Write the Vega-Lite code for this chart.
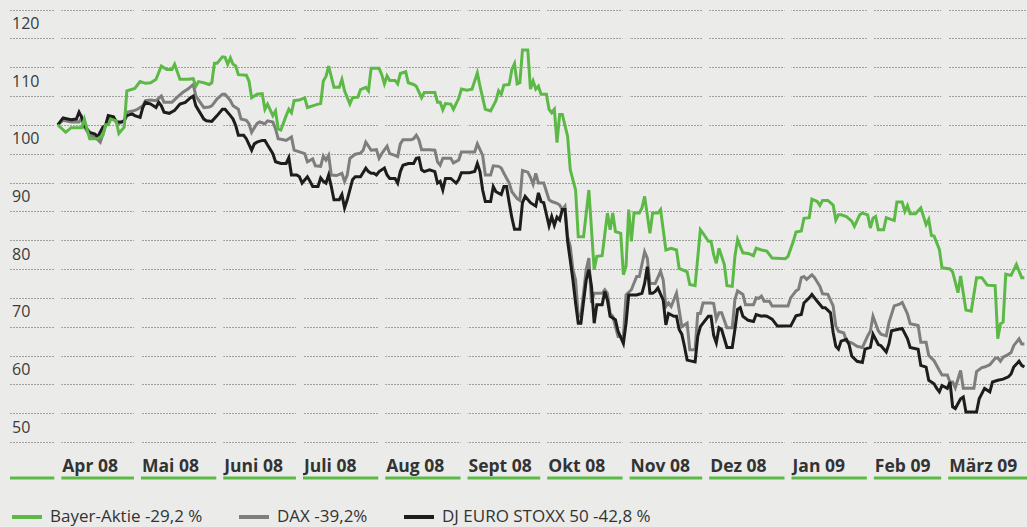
{
"$schema":"https://vega.github.io/schema/vega-lite/v6.json",
"width":1017,"height":442,
"autosize":{"type":"none"},
"padding":{"left":10,"top":0,"right":0,"bottom":85},
"background":"#ebecea",
"config":{"view":{"stroke":null},"font":"Open Sans"},
"datasets":{
"segs":[{"d":"2008-03-14","e":"2009-04-01"}],
"months":[{"d":"2008-04-01"},{"d":"2008-05-01"},{"d":"2008-06-01"},{"d":"2008-07-01"},{"d":"2008-08-01"},{"d":"2008-09-01"},{"d":"2008-10-01"},{"d":"2008-11-01"},{"d":"2008-12-01"},{"d":"2009-01-01"},{"d":"2009-02-01"},{"d":"2009-03-01"}],
"bayer":[
{"d":"2008-04-01","v":100},{"d":"2008-04-04","v":98.7},{"d":"2008-04-06","v":99.5},{"d":"2008-04-10","v":99.5},{"d":"2008-04-11","v":101},{"d":"2008-04-13","v":97.6},{"d":"2008-04-16","v":97.6},{"d":"2008-04-18","v":98.2},{"d":"2008-04-19","v":100},{"d":"2008-04-20","v":100},{"d":"2008-04-21","v":101},{"d":"2008-04-23","v":100.7},{"d":"2008-04-24","v":98.5},{"d":"2008-04-26","v":99.6},{"d":"2008-04-27","v":105.9},{"d":"2008-04-30","v":106.3},
{"d":"2008-05-02","v":107.5},{"d":"2008-05-04","v":107.2},{"d":"2008-05-06","v":107.3},{"d":"2008-05-08","v":107.9},{"d":"2008-05-10","v":110.2},{"d":"2008-05-12","v":109.6},{"d":"2008-05-14","v":109.6},{"d":"2008-05-15","v":110.5},{"d":"2008-05-17","v":107.9},{"d":"2008-05-20","v":107.9},{"d":"2008-05-22","v":108},{"d":"2008-05-23","v":106.7},{"d":"2008-05-24","v":107.5},{"d":"2008-05-26","v":107.3},{"d":"2008-05-28","v":107},{"d":"2008-05-29","v":107.3},{"d":"2008-05-30","v":110.7},{"d":"2008-05-31","v":110.7},
{"d":"2008-06-02","v":111.8},{"d":"2008-06-03","v":111.7},{"d":"2008-06-04","v":110.5},{"d":"2008-06-05","v":111.6},{"d":"2008-06-06","v":110.5},{"d":"2008-06-07","v":110.2},{"d":"2008-06-08","v":108.7},{"d":"2008-06-11","v":108.6},{"d":"2008-06-12","v":107.6},{"d":"2008-06-13","v":104.7},{"d":"2008-06-15","v":105.3},{"d":"2008-06-17","v":105.4},{"d":"2008-06-18","v":102.7},{"d":"2008-06-19","v":103.6},{"d":"2008-06-21","v":101.6},{"d":"2008-06-22","v":102.4},{"d":"2008-06-23","v":99.3},{"d":"2008-06-24","v":99.1},{"d":"2008-06-26","v":101.6},{"d":"2008-06-27","v":102.7},{"d":"2008-06-28","v":102.1},{"d":"2008-06-29","v":104.2},
{"d":"2008-07-01","v":104.3},{"d":"2008-07-03","v":104.7},{"d":"2008-07-04","v":103},{"d":"2008-07-06","v":103.3},{"d":"2008-07-08","v":103.6},{"d":"2008-07-09","v":103.7},{"d":"2008-07-10","v":107.6},{"d":"2008-07-11","v":108.4},{"d":"2008-07-12","v":110.2},{"d":"2008-07-14","v":106.5},{"d":"2008-07-16","v":106.5},{"d":"2008-07-17","v":107.9},{"d":"2008-07-18","v":105.9},{"d":"2008-07-20","v":103.6},{"d":"2008-07-21","v":104.7},{"d":"2008-07-23","v":104.8},{"d":"2008-07-24","v":106.1},{"d":"2008-07-26","v":106.5},{"d":"2008-07-27","v":105.9},{"d":"2008-07-28","v":109.8},{"d":"2008-07-31","v":109.8},
{"d":"2008-08-01","v":108.7},{"d":"2008-08-02","v":107.1},{"d":"2008-08-03","v":108.5},{"d":"2008-08-04","v":107.7},{"d":"2008-08-06","v":107.7},{"d":"2008-08-07","v":107.1},{"d":"2008-08-08","v":108.9},{"d":"2008-08-10","v":109.2},{"d":"2008-08-11","v":107.3},{"d":"2008-08-13","v":107},{"d":"2008-08-14","v":106.7},{"d":"2008-08-16","v":104.7},{"d":"2008-08-17","v":105.6},{"d":"2008-08-21","v":105.6},{"d":"2008-08-22","v":103.9},{"d":"2008-08-23","v":103.9},{"d":"2008-08-24","v":102.6},{"d":"2008-08-25","v":103.7},{"d":"2008-08-27","v":103.6},{"d":"2008-08-28","v":102.7},{"d":"2008-08-30","v":104.6},{"d":"2008-08-31","v":106.2},
{"d":"2008-09-02","v":106},{"d":"2008-09-04","v":106.2},{"d":"2008-09-05","v":107.6},{"d":"2008-09-06","v":109},{"d":"2008-09-07","v":106.7},{"d":"2008-09-09","v":102.7},{"d":"2008-09-11","v":102.4},{"d":"2008-09-13","v":104.2},{"d":"2008-09-14","v":105.9},{"d":"2008-09-15","v":105.3},{"d":"2008-09-16","v":106.9},{"d":"2008-09-18","v":107},{"d":"2008-09-19","v":109.6},{"d":"2008-09-20","v":110.6},{"d":"2008-09-21","v":107.1},{"d":"2008-09-22","v":107.3},{"d":"2008-09-23","v":113},{"d":"2008-09-25","v":113},{"d":"2008-09-26","v":106.2},{"d":"2008-09-27","v":107.6},{"d":"2008-09-28","v":106.2},{"d":"2008-09-29","v":106.7},{"d":"2008-09-30","v":105.3},
{"d":"2008-10-02","v":105.3},{"d":"2008-10-03","v":102.7},{"d":"2008-10-04","v":102.1},{"d":"2008-10-05","v":102.7},{"d":"2008-10-06","v":96.9},{"d":"2008-10-07","v":101.8},{"d":"2008-10-08","v":101.8},{"d":"2008-10-10","v":98},{"d":"2008-10-11","v":92.2},{"d":"2008-10-13","v":88.7},{"d":"2008-10-14","v":80.6},{"d":"2008-10-16","v":80.6},{"d":"2008-10-18","v":88.7},{"d":"2008-10-20","v":74.9},{"d":"2008-10-21","v":77.2},{"d":"2008-10-23","v":77.3},{"d":"2008-10-25","v":84.7},{"d":"2008-10-26","v":81.8},{"d":"2008-10-27","v":84.7},{"d":"2008-10-28","v":81.5},{"d":"2008-10-30","v":81.2},{"d":"2008-10-31","v":74},
{"d":"2008-11-01","v":75.5},{"d":"2008-11-02","v":85.3},{"d":"2008-11-03","v":79.8},{"d":"2008-11-04","v":84.7},{"d":"2008-11-06","v":84.7},{"d":"2008-11-07","v":85.6},{"d":"2008-11-08","v":87.6},{"d":"2008-11-10","v":81.2},{"d":"2008-11-11","v":84.7},{"d":"2008-11-13","v":84.7},{"d":"2008-11-14","v":85.3},{"d":"2008-11-16","v":78.3},{"d":"2008-11-18","v":78.6},{"d":"2008-11-20","v":78.3},{"d":"2008-11-21","v":75.1},{"d":"2008-11-24","v":74.5},{"d":"2008-11-25","v":72.3},{"d":"2008-11-27","v":72.1},{"d":"2008-11-29","v":81.8},{"d":"2008-11-30","v":81.2},
{"d":"2008-12-02","v":79.8},{"d":"2008-12-03","v":79.8},{"d":"2008-12-04","v":77.5},{"d":"2008-12-05","v":76},{"d":"2008-12-06","v":78.6},{"d":"2008-12-08","v":75.8},{"d":"2008-12-09","v":72.1},{"d":"2008-12-11","v":72},{"d":"2008-12-12","v":77.2},{"d":"2008-12-13","v":80.1},{"d":"2008-12-14","v":78.9},{"d":"2008-12-15","v":77.8},{"d":"2008-12-17","v":77.7},{"d":"2008-12-19","v":77.3},{"d":"2008-12-20","v":78.6},{"d":"2008-12-22","v":78.3},{"d":"2008-12-24","v":78.1},{"d":"2008-12-26","v":76.9},{"d":"2008-12-31","v":76.8},
{"d":"2009-01-01","v":77.2},{"d":"2009-01-03","v":79.8},{"d":"2009-01-04","v":81.4},{"d":"2009-01-06","v":81.6},{"d":"2009-01-07","v":83.8},{"d":"2009-01-09","v":83.9},{"d":"2009-01-10","v":87.1},{"d":"2009-01-12","v":86.7},{"d":"2009-01-13","v":86},{"d":"2009-01-14","v":86.9},{"d":"2009-01-16","v":86.9},{"d":"2009-01-18","v":86.1},{"d":"2009-01-19","v":83.5},{"d":"2009-01-20","v":84.4},{"d":"2009-01-21","v":84.4},{"d":"2009-01-23","v":84.1},{"d":"2009-01-25","v":83.3},{"d":"2009-01-26","v":82.4},{"d":"2009-01-28","v":84.4},{"d":"2009-01-29","v":84.7},{"d":"2009-01-31","v":84.4},
{"d":"2009-02-01","v":82.1},{"d":"2009-02-02","v":83.8},{"d":"2009-02-03","v":84.1},{"d":"2009-02-04","v":81.8},{"d":"2009-02-06","v":81.8},{"d":"2009-02-07","v":83.9},{"d":"2009-02-10","v":83.4},{"d":"2009-02-11","v":86.6},{"d":"2009-02-13","v":86.6},{"d":"2009-02-14","v":85},{"d":"2009-02-15","v":86},{"d":"2009-02-16","v":84.6},{"d":"2009-02-18","v":84.6},{"d":"2009-02-20","v":85.6},{"d":"2009-02-22","v":82.7},{"d":"2009-02-23","v":83.6},{"d":"2009-02-24","v":80.8},{"d":"2009-02-25","v":80.7},{"d":"2009-02-27","v":78.4},{"d":"2009-02-28","v":75.2},
{"d":"2009-03-03","v":75},{"d":"2009-03-04","v":74.5},{"d":"2009-03-06","v":70.9},{"d":"2009-03-07","v":73.8},{"d":"2009-03-09","v":67.9},{"d":"2009-03-11","v":67.7},{"d":"2009-03-13","v":73.5},{"d":"2009-03-15","v":73.5},{"d":"2009-03-17","v":72.2},{"d":"2009-03-20","v":72.1},{"d":"2009-03-21","v":62.9},{"d":"2009-03-22","v":65.5},{"d":"2009-03-23","v":65.8},{"d":"2009-03-24","v":74.1},{"d":"2009-03-26","v":73.9},{"d":"2009-03-28","v":75.8},{"d":"2009-03-30","v":73.5},{"d":"2009-03-31","v":73.5}
],
"dax":[
{"d":"2008-04-01","v":100},{"d":"2008-04-03","v":100.8},{"d":"2008-04-06","v":100.5},{"d":"2008-04-09","v":100.5},{"d":"2008-04-10","v":101.2},{"d":"2008-04-11","v":99.6},{"d":"2008-04-13","v":98.2},{"d":"2008-04-15","v":97.9},{"d":"2008-04-17","v":97},{"d":"2008-04-18","v":98.4},{"d":"2008-04-20","v":101.3},{"d":"2008-04-22","v":101.2},{"d":"2008-04-24","v":100.2},{"d":"2008-04-26","v":100.7},{"d":"2008-04-27","v":102.2},{"d":"2008-04-30","v":102.5},
{"d":"2008-05-01","v":102.7},{"d":"2008-05-03","v":103.3},{"d":"2008-05-04","v":104.2},{"d":"2008-05-06","v":104.3},{"d":"2008-05-08","v":104.2},{"d":"2008-05-10","v":105},{"d":"2008-05-11","v":103.9},{"d":"2008-05-14","v":103.9},{"d":"2008-05-16","v":104.8},{"d":"2008-05-18","v":105.6},{"d":"2008-05-20","v":106.2},{"d":"2008-05-22","v":107},{"d":"2008-05-23","v":105},{"d":"2008-05-26","v":103},{"d":"2008-05-28","v":103.1},{"d":"2008-05-29","v":103.3},{"d":"2008-05-31","v":104.5},
{"d":"2008-06-02","v":105.3},{"d":"2008-06-03","v":105.3},{"d":"2008-06-05","v":104.2},{"d":"2008-06-06","v":103.3},{"d":"2008-06-08","v":102.7},{"d":"2008-06-09","v":101},{"d":"2008-06-11","v":100.8},{"d":"2008-06-12","v":100.2},{"d":"2008-06-13","v":98.7},{"d":"2008-06-15","v":100.2},{"d":"2008-06-16","v":100.5},{"d":"2008-06-18","v":100.2},{"d":"2008-06-19","v":100.7},{"d":"2008-06-21","v":100.5},{"d":"2008-06-22","v":99.3},{"d":"2008-06-23","v":97.6},{"d":"2008-06-25","v":97.4},{"d":"2008-06-26","v":97.3},{"d":"2008-06-28","v":97.9},{"d":"2008-06-29","v":95.6},
{"d":"2008-07-01","v":95.3},{"d":"2008-07-03","v":95},{"d":"2008-07-04","v":93.6},{"d":"2008-07-06","v":94.1},{"d":"2008-07-07","v":92.9},{"d":"2008-07-09","v":92.8},{"d":"2008-07-10","v":94.6},{"d":"2008-07-11","v":93.9},{"d":"2008-07-12","v":94.7},{"d":"2008-07-13","v":91.3},{"d":"2008-07-15","v":91.2},{"d":"2008-07-17","v":91.6},{"d":"2008-07-18","v":90.2},{"d":"2008-07-19","v":91.3},{"d":"2008-07-20","v":94.2},{"d":"2008-07-22","v":94.9},{"d":"2008-07-24","v":95.1},{"d":"2008-07-25","v":95.6},{"d":"2008-07-26","v":97},{"d":"2008-07-28","v":95.6},{"d":"2008-07-30","v":95.7},{"d":"2008-07-31","v":94.2},
{"d":"2008-08-01","v":95},{"d":"2008-08-03","v":96.3},{"d":"2008-08-04","v":95},{"d":"2008-08-06","v":94.7},{"d":"2008-08-07","v":94.5},{"d":"2008-08-08","v":96.7},{"d":"2008-08-09","v":97.4},{"d":"2008-08-12","v":97.4},{"d":"2008-08-13","v":97.6},{"d":"2008-08-14","v":98.2},{"d":"2008-08-15","v":97.4},{"d":"2008-08-16","v":95.7},{"d":"2008-08-19","v":95.7},{"d":"2008-08-21","v":95.6},{"d":"2008-08-22","v":93.6},{"d":"2008-08-23","v":93},{"d":"2008-08-24","v":94.2},{"d":"2008-08-27","v":94.2},{"d":"2008-08-28","v":93.4},{"d":"2008-08-30","v":93.9},{"d":"2008-08-31","v":95.3},
{"d":"2008-09-03","v":95.3},{"d":"2008-09-05","v":95.3},{"d":"2008-09-06","v":96.7},{"d":"2008-09-08","v":94.7},{"d":"2008-09-09","v":91.3},{"d":"2008-09-11","v":91.3},{"d":"2008-09-12","v":92.9},{"d":"2008-09-14","v":92.8},{"d":"2008-09-15","v":92.5},{"d":"2008-09-16","v":91.6},{"d":"2008-09-18","v":89.9},{"d":"2008-09-19","v":88.4},{"d":"2008-09-21","v":87.2},{"d":"2008-09-22","v":86.9},{"d":"2008-09-23","v":92.1},{"d":"2008-09-25","v":91.8},{"d":"2008-09-26","v":90.9},{"d":"2008-09-27","v":89.7},{"d":"2008-09-28","v":91.6},{"d":"2008-09-29","v":89.9},
{"d":"2008-10-01","v":89.9},{"d":"2008-10-03","v":87},{"d":"2008-10-04","v":86.7},{"d":"2008-10-06","v":86.4},{"d":"2008-10-07","v":86.1},{"d":"2008-10-08","v":85.3},{"d":"2008-10-09","v":85.9},{"d":"2008-10-10","v":80.6},{"d":"2008-10-11","v":78.9},{"d":"2008-10-12","v":74.9},{"d":"2008-10-13","v":73.1},{"d":"2008-10-14","v":66.8},{"d":"2008-10-15","v":66.8},{"d":"2008-10-17","v":74.9},{"d":"2008-10-18","v":76.9},{"d":"2008-10-19","v":69.1},{"d":"2008-10-20","v":70.8},{"d":"2008-10-23","v":70.8},{"d":"2008-10-24","v":71.4},{"d":"2008-10-25","v":70.8},{"d":"2008-10-26","v":67.3},{"d":"2008-10-27","v":66.8},{"d":"2008-10-29","v":63.3},{"d":"2008-10-31","v":63.3},
{"d":"2008-11-01","v":70.5},{"d":"2008-11-03","v":71.4},{"d":"2008-11-05","v":73.7},{"d":"2008-11-06","v":73.7},{"d":"2008-11-08","v":78},{"d":"2008-11-09","v":76.9},{"d":"2008-11-10","v":72.5},{"d":"2008-11-12","v":72.5},{"d":"2008-11-14","v":74.6},{"d":"2008-11-15","v":73.1},{"d":"2008-11-16","v":68.5},{"d":"2008-11-17","v":69.1},{"d":"2008-11-18","v":68.5},{"d":"2008-11-20","v":70.8},{"d":"2008-11-21","v":67.9},{"d":"2008-11-22","v":65},{"d":"2008-11-24","v":65.6},{"d":"2008-11-25","v":61},{"d":"2008-11-27","v":61},{"d":"2008-11-28","v":67.3},{"d":"2008-11-29","v":67.3},{"d":"2008-11-30","v":69.1},
{"d":"2008-12-03","v":69.1},{"d":"2008-12-04","v":69},{"d":"2008-12-05","v":66.3},{"d":"2008-12-06","v":67.4},{"d":"2008-12-07","v":67.4},{"d":"2008-12-09","v":64.8},{"d":"2008-12-11","v":64.8},{"d":"2008-12-12","v":69.7},{"d":"2008-12-13","v":71.2},{"d":"2008-12-15","v":70.6},{"d":"2008-12-16","v":68.8},{"d":"2008-12-19","v":68.8},{"d":"2008-12-20","v":70},{"d":"2008-12-21","v":69.9},{"d":"2008-12-22","v":70.3},{"d":"2008-12-23","v":69.4},{"d":"2008-12-25","v":69.4},{"d":"2008-12-26","v":68.6},
{"d":"2009-01-01","v":68.6},{"d":"2009-01-02","v":70},{"d":"2009-01-04","v":71.2},{"d":"2009-01-05","v":71.5},{"d":"2009-01-06","v":73.5},{"d":"2009-01-07","v":73.7},{"d":"2009-01-08","v":73.2},{"d":"2009-01-10","v":74},{"d":"2009-01-11","v":73.5},{"d":"2009-01-13","v":72},{"d":"2009-01-14","v":70.7},{"d":"2009-01-16","v":70.6},{"d":"2009-01-18","v":68.6},{"d":"2009-01-19","v":65.1},{"d":"2009-01-20","v":64.2},{"d":"2009-01-22","v":63.9},{"d":"2009-01-23","v":62.5},{"d":"2009-01-25","v":62.2},{"d":"2009-01-27","v":61.6},{"d":"2009-01-29","v":61.4},{"d":"2009-01-31","v":63.4},
{"d":"2009-02-01","v":64.2},{"d":"2009-02-02","v":66.8},{"d":"2009-02-04","v":64.3},{"d":"2009-02-05","v":63.7},{"d":"2009-02-07","v":63.4},{"d":"2009-02-08","v":65.7},{"d":"2009-02-10","v":68.6},{"d":"2009-02-12","v":68.9},{"d":"2009-02-13","v":69.2},{"d":"2009-02-15","v":67.2},{"d":"2009-02-16","v":65.5},{"d":"2009-02-19","v":65.2},{"d":"2009-02-20","v":62.3},{"d":"2009-02-22","v":62.3},{"d":"2009-02-23","v":60},{"d":"2009-02-25","v":59.1},{"d":"2009-02-27","v":57.4},{"d":"2009-02-28","v":56.6},
{"d":"2009-03-02","v":56.6},{"d":"2009-03-03","v":55.4},{"d":"2009-03-04","v":55.4},{"d":"2009-03-05","v":54.4},{"d":"2009-03-07","v":57.4},{"d":"2009-03-08","v":54.3},{"d":"2009-03-12","v":54.3},{"d":"2009-03-13","v":57.2},{"d":"2009-03-15","v":57.9},{"d":"2009-03-16","v":58},{"d":"2009-03-18","v":58.4},{"d":"2009-03-20","v":59.5},{"d":"2009-03-21","v":59.6},{"d":"2009-03-22","v":59},{"d":"2009-03-23","v":59.7},{"d":"2009-03-25","v":60.2},{"d":"2009-03-26","v":60.5},{"d":"2009-03-27","v":61.7},{"d":"2009-03-29","v":62.9},{"d":"2009-03-30","v":62},{"d":"2009-03-31","v":62}
],
"stoxx":[
{"d":"2008-04-01","v":100},{"d":"2008-04-03","v":101.2},{"d":"2008-04-06","v":100.9},{"d":"2008-04-08","v":101},{"d":"2008-04-09","v":102.2},{"d":"2008-04-10","v":101.3},{"d":"2008-04-11","v":99.9},{"d":"2008-04-13","v":98.7},{"d":"2008-04-15","v":98.4},{"d":"2008-04-16","v":97.9},{"d":"2008-04-18","v":99.6},{"d":"2008-04-19","v":99.9},{"d":"2008-04-20","v":101.6},{"d":"2008-04-22","v":101.4},{"d":"2008-04-23","v":100.5},{"d":"2008-04-25","v":100.5},{"d":"2008-04-26","v":100.7},{"d":"2008-04-27","v":101.6},{"d":"2008-04-29","v":101.9},{"d":"2008-04-30","v":101.6},
{"d":"2008-05-02","v":101.3},{"d":"2008-05-03","v":103},{"d":"2008-05-04","v":103.9},{"d":"2008-05-06","v":103.6},{"d":"2008-05-08","v":103},{"d":"2008-05-09","v":103.9},{"d":"2008-05-10","v":103.3},{"d":"2008-05-11","v":102.2},{"d":"2008-05-13","v":102},{"d":"2008-05-15","v":102.5},{"d":"2008-05-17","v":103.6},{"d":"2008-05-19","v":103.9},{"d":"2008-05-21","v":104.7},{"d":"2008-05-22","v":105},{"d":"2008-05-23","v":103.3},{"d":"2008-05-26","v":101},{"d":"2008-05-27","v":100.7},{"d":"2008-05-29","v":100.6},{"d":"2008-05-31","v":101.6},
{"d":"2008-06-02","v":102.7},{"d":"2008-06-03","v":102.7},{"d":"2008-06-05","v":101.6},{"d":"2008-06-06","v":101},{"d":"2008-06-07","v":99.9},{"d":"2008-06-08","v":98.2},{"d":"2008-06-10","v":98.2},{"d":"2008-06-11","v":97.6},{"d":"2008-06-13","v":95.6},{"d":"2008-06-14","v":96.7},{"d":"2008-06-15","v":97},{"d":"2008-06-17","v":97.3},{"d":"2008-06-18","v":97.3},{"d":"2008-06-19","v":96.5},{"d":"2008-06-21","v":95},{"d":"2008-06-22","v":93.6},{"d":"2008-06-24","v":93.3},{"d":"2008-06-26","v":93.3},{"d":"2008-06-27","v":94.3},{"d":"2008-06-28","v":91.3},{"d":"2008-06-30","v":91.3},
{"d":"2008-07-01","v":91},{"d":"2008-07-02","v":89.9},{"d":"2008-07-04","v":91},{"d":"2008-07-05","v":90.2},{"d":"2008-07-06","v":89.3},{"d":"2008-07-08","v":89.3},{"d":"2008-07-09","v":90.8},{"d":"2008-07-10","v":90.2},{"d":"2008-07-11","v":89.9},{"d":"2008-07-12","v":91.3},{"d":"2008-07-13","v":89.3},{"d":"2008-07-14","v":87},{"d":"2008-07-16","v":87},{"d":"2008-07-17","v":87.9},{"d":"2008-07-18","v":85.6},{"d":"2008-07-19","v":87},{"d":"2008-07-21","v":90.5},{"d":"2008-07-22","v":91},{"d":"2008-07-24","v":91},{"d":"2008-07-26","v":92.5},{"d":"2008-07-27","v":91.9},{"d":"2008-07-28","v":91.6},{"d":"2008-07-29","v":91.6},{"d":"2008-07-30","v":91.3},{"d":"2008-07-31","v":91.9},
{"d":"2008-08-02","v":92.5},{"d":"2008-08-03","v":91.3},{"d":"2008-08-04","v":90.7},{"d":"2008-08-06","v":90.7},{"d":"2008-08-07","v":89.9},{"d":"2008-08-08","v":91.9},{"d":"2008-08-09","v":93},{"d":"2008-08-11","v":93.3},{"d":"2008-08-13","v":93.3},{"d":"2008-08-14","v":94.2},{"d":"2008-08-15","v":94.3},{"d":"2008-08-16","v":92.2},{"d":"2008-08-17","v":91.9},{"d":"2008-08-19","v":92.2},{"d":"2008-08-21","v":91.9},{"d":"2008-08-22","v":89.9},{"d":"2008-08-23","v":90.2},{"d":"2008-08-24","v":88.7},{"d":"2008-08-25","v":90.7},{"d":"2008-08-27","v":90.7},{"d":"2008-08-29","v":89.9},{"d":"2008-08-30","v":90.5},{"d":"2008-08-31","v":91.7},
{"d":"2008-09-03","v":91.7},{"d":"2008-09-05","v":91.9},{"d":"2008-09-06","v":93.3},{"d":"2008-09-07","v":91.9},{"d":"2008-09-08","v":88.7},{"d":"2008-09-09","v":86.7},{"d":"2008-09-11","v":86.7},{"d":"2008-09-12","v":89.3},{"d":"2008-09-13","v":88.4},{"d":"2008-09-15","v":87.9},{"d":"2008-09-16","v":89.3},{"d":"2008-09-17","v":89.3},{"d":"2008-09-18","v":86.5},{"d":"2008-09-19","v":83.9},{"d":"2008-09-20","v":81.9},{"d":"2008-09-22","v":81.9},{"d":"2008-09-23","v":86.5},{"d":"2008-09-24","v":87.6},{"d":"2008-09-26","v":86.5},{"d":"2008-09-28","v":85.9},{"d":"2008-09-29","v":88.2},{"d":"2008-09-30","v":86.7},
{"d":"2008-10-01","v":86.5},{"d":"2008-10-02","v":84.5},{"d":"2008-10-03","v":82.5},{"d":"2008-10-04","v":84.1},{"d":"2008-10-05","v":82.6},{"d":"2008-10-06","v":84},{"d":"2008-10-07","v":83.5},{"d":"2008-10-08","v":85.3},{"d":"2008-10-09","v":85.3},{"d":"2008-10-10","v":79.8},{"d":"2008-10-11","v":76.5},{"d":"2008-10-12","v":73.1},{"d":"2008-10-13","v":69.1},{"d":"2008-10-14","v":65.6},{"d":"2008-10-15","v":65.6},{"d":"2008-10-17","v":73.1},{"d":"2008-10-18","v":74.9},{"d":"2008-10-19","v":72},{"d":"2008-10-20","v":65.6},{"d":"2008-10-21","v":68.8},{"d":"2008-10-23","v":68.8},{"d":"2008-10-24","v":71.1},{"d":"2008-10-25","v":69.6},{"d":"2008-10-26","v":66.8},{"d":"2008-10-28","v":66.2},{"d":"2008-10-29","v":64.2},{"d":"2008-10-31","v":62.1},
{"d":"2008-11-01","v":65.6},{"d":"2008-11-02","v":70.5},{"d":"2008-11-05","v":70.5},{"d":"2008-11-07","v":70.8},{"d":"2008-11-08","v":72.5},{"d":"2008-11-09","v":75.4},{"d":"2008-11-10","v":70.8},{"d":"2008-11-11","v":70.8},{"d":"2008-11-12","v":71.1},{"d":"2008-11-13","v":71.7},{"d":"2008-11-15","v":69.6},{"d":"2008-11-16","v":65.3},{"d":"2008-11-17","v":67.3},{"d":"2008-11-19","v":66.8},{"d":"2008-11-20","v":66.8},{"d":"2008-11-21","v":64.5},{"d":"2008-11-22","v":63.7},{"d":"2008-11-23","v":61.6},{"d":"2008-11-24","v":59.2},{"d":"2008-11-27","v":58.9},{"d":"2008-11-28","v":63.3},{"d":"2008-11-29","v":65},{"d":"2008-11-30","v":65.6},
{"d":"2008-12-02","v":66.8},{"d":"2008-12-03","v":66.8},{"d":"2008-12-04","v":63.5},{"d":"2008-12-05","v":62.2},{"d":"2008-12-06","v":64.8},{"d":"2008-12-07","v":64.5},{"d":"2008-12-09","v":61.4},{"d":"2008-12-11","v":61.4},{"d":"2008-12-12","v":64.5},{"d":"2008-12-13","v":68},{"d":"2008-12-14","v":68.3},{"d":"2008-12-15","v":66.8},{"d":"2008-12-17","v":66.1},{"d":"2008-12-19","v":65.9},{"d":"2008-12-20","v":67.1},{"d":"2008-12-22","v":66.8},{"d":"2008-12-23","v":66.9},{"d":"2008-12-24","v":66.8},{"d":"2008-12-26","v":66.3},{"d":"2008-12-28","v":65.1},
{"d":"2009-01-02","v":65.1},{"d":"2009-01-04","v":66.9},{"d":"2009-01-06","v":67.1},{"d":"2009-01-07","v":69.1},{"d":"2009-01-09","v":70},{"d":"2009-01-10","v":70.6},{"d":"2009-01-12","v":69.4},{"d":"2009-01-14","v":68.3},{"d":"2009-01-15","v":68.3},{"d":"2009-01-17","v":67.4},{"d":"2009-01-18","v":64},{"d":"2009-01-19","v":61.6},{"d":"2009-01-20","v":61.1},{"d":"2009-01-21","v":62.5},{"d":"2009-01-23","v":62.8},{"d":"2009-01-24","v":61.9},{"d":"2009-01-25","v":59.9},{"d":"2009-01-27","v":59},{"d":"2009-01-29","v":58.8},{"d":"2009-01-30","v":61.1},
{"d":"2009-02-01","v":61.4},{"d":"2009-02-02","v":63.7},{"d":"2009-02-04","v":61.9},{"d":"2009-02-05","v":61.7},{"d":"2009-02-07","v":60.6},{"d":"2009-02-08","v":62},{"d":"2009-02-09","v":64.3},{"d":"2009-02-12","v":64.6},{"d":"2009-02-13","v":64.7},{"d":"2009-02-15","v":62.9},{"d":"2009-02-16","v":61.4},{"d":"2009-02-19","v":61.1},{"d":"2009-02-20","v":58.3},{"d":"2009-02-22","v":58},{"d":"2009-02-23","v":55.7},{"d":"2009-02-25","v":55.1},{"d":"2009-02-26","v":54.3},{"d":"2009-02-27","v":53.7},{"d":"2009-02-28","v":54.8},
{"d":"2009-03-02","v":54.3},{"d":"2009-03-03","v":55.4},{"d":"2009-03-04","v":51.1},{"d":"2009-03-05","v":50.8},{"d":"2009-03-07","v":52.5},{"d":"2009-03-08","v":52.8},{"d":"2009-03-09","v":50.2},{"d":"2009-03-13","v":50.2},{"d":"2009-03-14","v":52.5},{"d":"2009-03-15","v":53.4},{"d":"2009-03-16","v":54.3},{"d":"2009-03-18","v":53.7},{"d":"2009-03-19","v":55.4},{"d":"2009-03-21","v":55.7},{"d":"2009-03-23","v":55.9},{"d":"2009-03-25","v":56.3},{"d":"2009-03-26","v":56.8},{"d":"2009-03-27","v":58},{"d":"2009-03-29","v":59},{"d":"2009-03-30","v":58.3},{"d":"2009-03-31","v":58}
]
},
"encoding":{
"x":{"field":"d","type":"temporal","title":null,
"scale":{"type":"utc","domain":[{"year":2008,"month":3,"date":14,"utc":true},{"year":2009,"month":4,"date":1,"utc":true}]},
"axis":{"orient":"bottom","grid":false,"domain":false,"ticks":false,
"values":[{"year":2008,"month":4,"date":1,"utc":true},{"year":2008,"month":5,"date":1,"utc":true},{"year":2008,"month":6,"date":1,"utc":true},{"year":2008,"month":7,"date":1,"utc":true},{"year":2008,"month":8,"date":1,"utc":true},{"year":2008,"month":9,"date":1,"utc":true},{"year":2008,"month":10,"date":1,"utc":true},{"year":2008,"month":11,"date":1,"utc":true},{"year":2008,"month":12,"date":1,"utc":true},{"year":2009,"month":1,"date":1,"utc":true},{"year":2009,"month":2,"date":1,"utc":true},{"year":2009,"month":3,"date":1,"utc":true}],
"tickCount":40,
"labelExpr":"['Jan','Feb','März','Apr','Mai','Juni','Juli','Aug','Sept','Okt','Nov','Dez'][utcmonth(datum.value)] + ' ' + utcFormat(datum.value, '%y')",
"labelAlign":"left","labelBaseline":"middle","labelOffset":4,"labelPadding":24,
"labelFont":"Open Sans","labelFontWeight":"bold","labelFontSize":17.5,"labelColor":"#333333",
"labelOverlap":false,"labelFlush":false,"labelBound":false}}
},
"layer":[
{"data":{"name":"segs"},"mark":{"type":"rule","color":"#5cb946","strokeWidth":3},
"encoding":{"x2":{"field":"e"},"y":{"datum":38.75}}},
{"data":{"name":"months"},"mark":{"type":"rule","color":"#ebecea","strokeWidth":7},
"encoding":{"y":{"datum":121.65},"y2":{"datum":38}}},
{"data":{"name":"dax"},"mark":{"type":"line","strokeWidth":3},
"encoding":{
"y":{"field":"v","type":"quantitative","title":null,
"scale":{"domain":[45,121.65],"nice":false,"zero":false},
"axis":{"orient":"left","values":[45,50,55,60,65,70,75,80,85,90,95,100,105,110,115,120],"tickCount":40,
"labelExpr":"datum.value % 10 === 0 && datum.value >= 50 ? datum.label : ''",
"domain":false,"ticks":false,"grid":true,"gridColor":"#555555","gridDash":[1,2],"gridWidth":1,
"labelAlign":"left","labelBaseline":"middle","labelPadding":-1.5,"labelOffset":14,"labelOverlap":false,
"labelFont":"Open Sans","labelFontSize":16,"labelColor":"#3a3a3a"}},
"color":{"datum":"DAX -39,2%","type":"nominal",
"scale":{"domain":["Bayer-Aktie -29,2 %","DAX -39,2%","DJ EURO STOXX 50 -42,8 %"],"range":["#5cb946","#7e7e7f","#1d1d1b"]},
"legend":{"orient":"none","legendX":0,"legendY":500,"direction":"horizontal","title":null,"symbolType":"stroke","symbolSize":900,"symbolStrokeWidth":4,"labelFont":"Open Sans","labelFontSize":17,"labelColor":"#333333","labelOffset":6,"columnPadding":28,"padding":0,"labelLimit":400}}
}},
{"data":{"name":"stoxx"},"mark":{"type":"line","strokeWidth":3},
"encoding":{"y":{"field":"v","type":"quantitative"},
"color":{"datum":"DJ EURO STOXX 50 -42,8 %","type":"nominal"}}},
{"data":{"name":"bayer"},"mark":{"type":"line","strokeWidth":3},
"encoding":{"y":{"field":"v","type":"quantitative"},
"color":{"datum":"Bayer-Aktie -29,2 %","type":"nominal"}}}
]
}
